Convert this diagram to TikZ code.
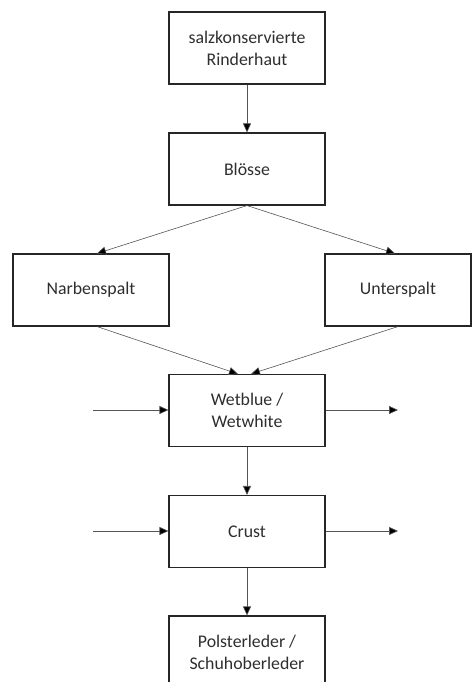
\documentclass[tikz,border=0pt]{standalone}
\usepackage{fontspec}
\setmainfont{Carlito}
\usetikzlibrary{arrows.meta}
\definecolor{txt}{HTML}{2E2E2E}
\definecolor{ln}{HTML}{555555}
\tikzset{
  box/.style={draw=black!85, line width=1.1pt, minimum width=156pt, minimum height=72pt,
    inner sep=0pt, align=center, font=\fontsize{17.8}{22}\selectfont, text=txt},
  conn/.style={draw=ln, line width=0.6pt, -{Triangle[length=9pt,width=8pt,fill=black]}}
}
\begin{document}
\begin{tikzpicture}[x=1pt,y=-1pt]
\useasboundingbox (0,0) rectangle (472,682);
\clip (0,0) rectangle (472,682);
\node[box] (hide) at (247,48) {salzkonservierte\\Rinderhaut};
\node[box] (bl) at (247,169) {Blösse};
\node[box] (nb) at (91,290) {Narbenspalt};
\node[box, minimum width=146pt] (us) at (398,290) {Unterspalt};
\node[box] (wb) at (247,410.5) {Wetblue /\\Wetwhite};
\node[box] (cr) at (247,531.5) {Crust};
\node[box] (pl) at (247,652) {Polsterleder /\\Schuhoberleder};
\coordinate (wl) at (93,410);
\coordinate (wr) at (398,410);
\coordinate (cl) at (93,531);
\coordinate (crr) at (398,531);
\draw[conn] (hide.south) -- (bl.north);
\draw[conn] (bl.south) -- (nb.north -| 97,0);
\draw[conn] (bl.south) -- (us.north -| 395,0);
\draw[conn] (nb.south -| 97,0) -- (wb.north -| 238,0);
\draw[conn] (us.south -| 398,0) -- (wb.north -| 251,0);
\draw[conn] (wl) -- (wl -| wb.west);
\draw[conn] (wb.east |- wr) -- (wr);
\draw[conn] (wb.south) -- (cr.north);
\draw[conn] (cl) -- (cl -| cr.west);
\draw[conn] (cr.east |- crr) -- (crr);
\draw[conn] (cr.south) -- (pl.north);
\end{tikzpicture}
\end{document}
